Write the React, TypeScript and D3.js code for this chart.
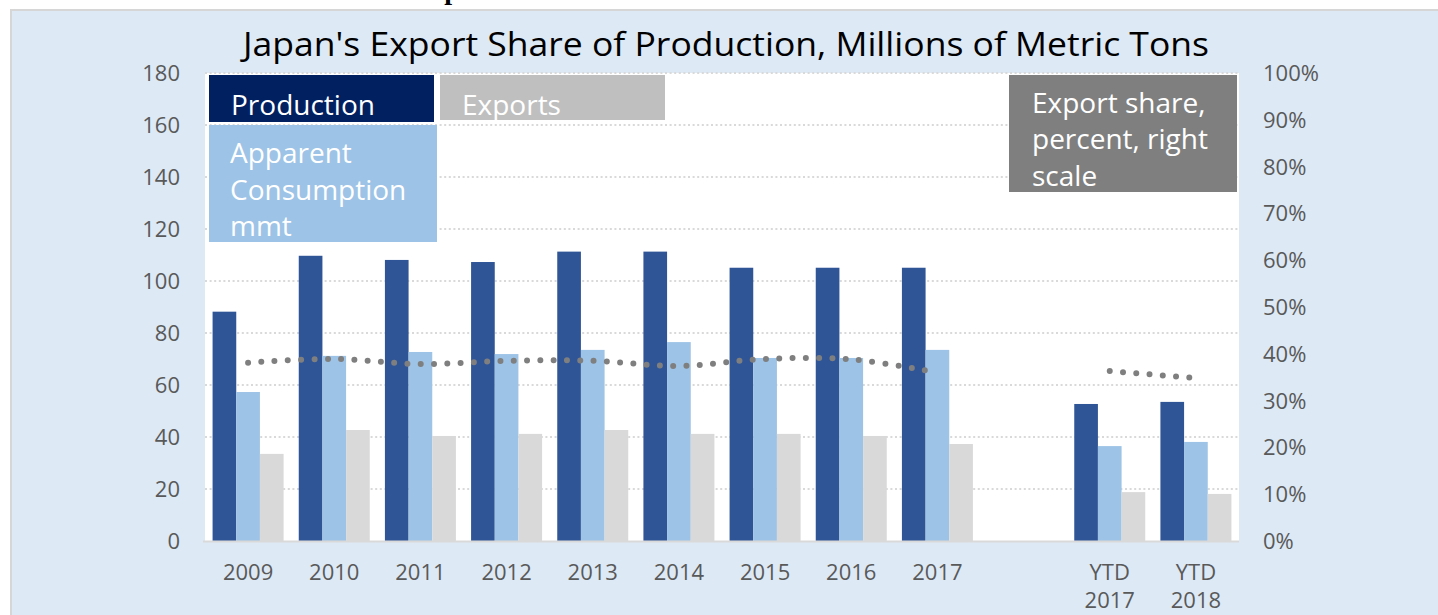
import React from "react";
import * as d3 from "d3";

const categories = ["2009", "2010", "2011", "2012", "2013", "2014", "2015", "2016", "2017", "", "YTD 2017", "YTD 2018"];
const categoryLabels = [["2009"], ["2010"], ["2011"], ["2012"], ["2013"], ["2014"], ["2015"], ["2016"], ["2017"], [], ["YTD", "2017"], ["YTD", "2018"]];
const production: (number | null)[] = [88.2, 109.7, 108.1, 107.3, 111.3, 111.3, 105.1, 105.1, 105.1, null, 52.7, 53.5];
const consumption: (number | null)[] = [57.3, 71.2, 72.7, 71.9, 73.5, 76.5, 70.4, 70.4, 73.5, null, 36.5, 38.1];
const exportsMmt: (number | null)[] = [33.5, 42.7, 40.4, 41.2, 42.7, 41.2, 41.2, 40.4, 37.3, null, 18.8, 18.1];
const exportShare: (number | null)[] = [0.381, 0.389, 0.378, 0.385, 0.385, 0.374, 0.389, 0.388, 0.36, null, 0.363, 0.348];
const leftTicks = [0, 20, 40, 60, 80, 100, 120, 140, 160, 180];
const rightTicks = [0, 0.1, 0.2, 0.3, 0.4, 0.5, 0.6, 0.7, 0.8, 0.9, 1.0];
const seriesNames = ["Production", "Apparent Consumption mmt", "Exports"];
const seriesColors = ["#2F5597", "#9DC3E6", "#D9D9D9"];
const titleText = "Japan's Export Share of Production, Millions of Metric Tons";

const W = 1438;
const H = 615;
const plotLeft = 205;
const plotRight = 1239;
const plotTop = 73;
const plotBottom = 541;
const FONT = "'Open Sans', 'Noto Sans', sans-serif";

export default function App() {
  const x = d3.scaleBand<string>().domain(categories).range([plotLeft, plotRight]).paddingInner(0.176).paddingOuter(0.088);
  const xSub = d3.scaleBand<string>().domain(seriesNames).range([0, x.bandwidth()]);
  const y = d3.scaleLinear().domain([0, 180]).range([plotBottom, plotTop]);
  const yR = d3.scaleLinear().domain([0, 1]).range([plotBottom, plotTop]);
  const seriesData = [production, consumption, exportsMmt];

  const line = d3
    .line<number | null>()
    .defined((d) => d != null)
    .x((_, i) => (x(categories[i]) as number) + x.bandwidth() / 2)
    .y((d) => yR(d as number))
    .curve(d3.curveCatmullRom.alpha(0.5));
  const pathD = line(exportShare) || "";

  return (
    <svg width={W} height={H} style={{ position: "absolute", left: 0, top: 0 }} fontFamily={FONT}>
      <rect x={0} y={0} width={W} height={H} fill="#ffffff" />
      {/* cut-off heading above the chart panel */}
      <text x={452} y={-1} textAnchor="middle" fontFamily="'Liberation Serif', 'DejaVu Serif', serif" fontWeight="bold" fontSize={28} fill="#000">
        p
      </text>
      <rect x={11} y={10} width={W - 10} height={H - 9} fill="#DDE9F5" stroke="#D6D6D6" strokeWidth={2} />
      <text x={243} y={56} textAnchor="start" fontSize={32} textLength={966} lengthAdjust="spacingAndGlyphs" fill="#000">
        {titleText}
      </text>
      <rect x={plotLeft} y={plotTop} width={plotRight - plotLeft} height={plotBottom - plotTop} fill="#ffffff" />
      {leftTicks.slice(1).map((t) => (
        <line key={"g" + t} x1={plotLeft} x2={plotRight} y1={y(t)} y2={y(t)} stroke="#D9D9D9" strokeWidth={2} strokeDasharray="2 2.6" />
      ))}
      {seriesData.map((arr, si) =>
        arr.map((v, i) =>
          v == null ? null : (
            <rect
              key={"b" + si + "-" + i}
              x={(x(categories[i]) as number) + (xSub(seriesNames[si]) as number)}
              y={y(v)}
              width={xSub.bandwidth()}
              height={y(0) - y(v)}
              fill={seriesColors[si]}
            />
          )
        )
      )}
      <line x1={plotLeft - 2} x2={plotRight} y1={y(0) + 0.5} y2={y(0) + 0.5} stroke="#D9D9D9" strokeWidth={2} />
      <path d={pathD} fill="none" stroke="#7F7F7F" strokeWidth={6} strokeDasharray="0 13.3" strokeLinecap="round" />
      {leftTicks.map((t) => (
        <text key={"l" + t} x={180} y={y(t)} dy="0.36em" textAnchor="end" fontSize={22} fill="#595959">
          {t}
        </text>
      ))}
      {rightTicks.map((t) => (
        <text key={"r" + t} x={1263} y={yR(t)} dy="0.36em" textAnchor="start" fontSize={22} fill="#595959">
          {d3.format(".0%")(t)}
        </text>
      ))}
      {categoryLabels.map((lines, i) =>
        lines.map((s, j) => (
          <text
            key={"c" + i + "-" + j}
            x={(x(categories[i]) as number) + x.bandwidth() / 2}
            y={580 + j * 28}
            textAnchor="middle"
            fontSize={22}
            fill="#595959"
          >
            {s}
          </text>
        ))
      )}
      {/* legend text boxes */}
      <rect x={209} y={75} width={225} height={47} fill="#002060" />
      <text x={231} y={115} fontSize={28} fill="#ffffff">Production</text>
      <rect x={440} y={75} width={225} height={45} fill="#BFBFBF" />
      <text x={462} y={115} fontSize={28} fill="#ffffff">Exports</text>
      <rect x={209} y={125} width={228} height={117} fill="#9DC3E6" />
      <text x={230} y={163} fontSize={28} fill="#ffffff">Apparent</text>
      <text x={230} y={200} fontSize={28} fill="#ffffff">Consumption</text>
      <text x={230} y={236} fontSize={28} fill="#ffffff">mmt</text>
      <rect x={1009} y={75} width={228} height={117} fill="#7F7F7F" />
      <text x={1032} y={113} fontSize={28} fill="#ffffff">Export share,</text>
      <text x={1032} y={149} fontSize={28} fill="#ffffff">percent, right</text>
      <text x={1032} y={186} fontSize={28} fill="#ffffff">scale</text>
    </svg>
  );
}
